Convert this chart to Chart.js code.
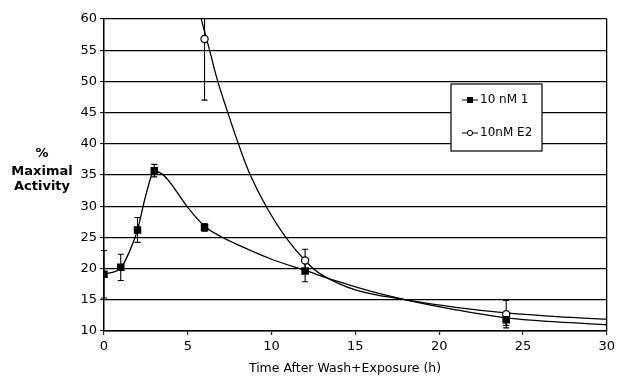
<!DOCTYPE html>
<html><head><meta charset="utf-8">
<script src="https://cdn.jsdelivr.net/npm/chart.js@4"></script>
<style>html,body{margin:0;padding:0;background:#fff}#wrap{width:619px;height:377px;position:relative}</style>
</head><body><div id="wrap"><canvas id="c" width="619" height="377"></canvas></div>
<script>
// ---- data ----
const xTicks = [0, 5, 10, 15, 20, 25, 30];
const yTicks = [10, 15, 20, 25, 30, 35, 40, 45, 50, 55, 60];
const seriesNames = ['10 nM 1', '10nM E2'];
const yTitleLines = ['%', 'Maximal', 'Activity'];
const xTitle = 'Time After Wash+Exposure (h)';

// measured points (mean ± error)
const timesA = [0, 1, 2, 3, 6, 12, 24];
const meanA  = [19.1, 20.2, 26.2, 35.7, 26.6, 19.6, 11.8];
const errA   = [3.8, 2.1, 2.0, 1.0, 0.6, 1.7, 0.9];

const timesE2 = [6, 12, 24];
const meanE2  = [56.8, 21.3, 12.7];
const errE2   = [9.8, 1.8, 2.2];

// fitted curves
const fitAX = [0, 0.5, 1, 1.5, 2, 2.5, 3, 3.5, 4, 4.5, 5, 6, 7, 8, 10, 12, 14, 16, 18, 21, 24, 27, 30];
const fitAY = [19.2, 19.4, 20.1, 22.6, 26.2, 31.8, 35.6, 35.1, 33.6, 31.7, 29.8, 26.8, 25.1, 23.8, 21.5, 19.7, 17.9, 16.3, 15.0, 13.4, 12.1, 11.45, 11.0];

const fitE2X = [5.6, 5.8, 6.3, 6.79, 7.39, 8.02, 8.73, 9.67, 10.85, 12, 13, 15, 18, 21, 24, 27, 30];
const fitE2Y = [62, 60, 55, 50, 45, 40, 35, 30, 25, 21.3, 19.0, 16.6, 15.0, 13.8, 12.9, 12.3, 11.9];

const FONT = '"DejaVu Sans", sans-serif';
const toXY = (xs, ys) => xs.map((x, i) => ({x: x, y: ys[i]}));

const errorBars = {
  id: 'errorBars',
  beforeDatasetsDraw(chart) {
    const {ctx, chartArea: a, scales: {x, y}} = chart;
    ctx.save();
    ctx.beginPath(); ctx.rect(a.left - 6, a.top, a.right - a.left + 12, a.bottom - a.top); ctx.clip();
    ctx.strokeStyle = '#000'; ctx.lineWidth = 1.1;
    const draw = (ts, ms, es) => ts.forEach((t, i) => {
      const px = x.getPixelForValue(t);
      const top = y.getPixelForValue(ms[i] + es[i]);
      const bot = y.getPixelForValue(ms[i] - es[i]);
      ctx.beginPath();
      ctx.moveTo(px, top); ctx.lineTo(px, bot);
      ctx.moveTo(px - 3, top); ctx.lineTo(px + 3, top);
      ctx.moveTo(px - 3, bot); ctx.lineTo(px + 3, bot);
      ctx.stroke();
    });
    draw(timesA, meanA, errA);
    draw(timesE2, meanE2, errE2);
    ctx.restore();
  }
};

const extras = {
  id: 'extras',
  afterDraw(chart) {
    const {ctx} = chart;
    ctx.save();
    ctx.fillStyle = '#000';
    // y title
    ctx.font = 'bold 13px ' + FONT;
    ctx.textAlign = 'center'; ctx.textBaseline = 'middle';
    [154, 172, 187].forEach((yy, i) => ctx.fillText(yTitleLines[i], 42, yy));
    // x title
    ctx.font = '12.5px ' + FONT;
    ctx.fillText(xTitle, 345, 369);
    // legend
    const bx = 451, by = 84, bw = 91, bh = 67;
    ctx.fillStyle = '#fff'; ctx.fillRect(bx, by, bw, bh);
    ctx.strokeStyle = '#000'; ctx.lineWidth = 1.2; ctx.strokeRect(bx, by, bw, bh);
    ctx.font = '12px ' + FONT; ctx.textAlign = 'left'; ctx.fillStyle = '#000';
    const rows = [100, 133];
    rows.forEach((yy, i) => {
      ctx.beginPath(); ctx.moveTo(462, yy); ctx.lineTo(478, yy); ctx.lineWidth = 1; ctx.stroke();
      if (i === 0) { ctx.fillStyle = '#000'; ctx.fillRect(467, yy - 3, 6, 6); }
      else { ctx.beginPath(); ctx.arc(470, yy, 2.6, 0, Math.PI * 2); ctx.fillStyle = '#fff'; ctx.fill(); ctx.stroke(); }
      ctx.fillStyle = '#000';
      ctx.fillText(seriesNames[i], 480, yy);
    });
    ctx.restore();
  }
};

new Chart(document.getElementById('c'), {
  type: 'line',
  data: {
    datasets: [
      { label: seriesNames[0], data: toXY(timesA, meanA), showLine: false,
        pointStyle: 'rect', pointRadius: 5.3, pointBackgroundColor: '#000', pointBorderColor: '#000', pointBorderWidth: 0 },
      { label: seriesNames[1], data: toXY(timesE2, meanE2), showLine: false,
        pointStyle: 'circle', pointRadius: 3.6, pointBackgroundColor: '#fff', pointBorderColor: '#000', pointBorderWidth: 1.2 },
      { label: 'fit 1', data: toXY(fitAX, fitAY), borderColor: '#000', borderWidth: 1.3, pointRadius: 0,
        cubicInterpolationMode: 'monotone', fill: false },
      { label: 'fit E2', data: toXY(fitE2X, fitE2Y), borderColor: '#000', borderWidth: 1.3, pointRadius: 0,
        tension: 0.4, fill: false }
    ]
  },
  options: {
    responsive: false, animation: false, devicePixelRatio: 1,
    layout: { padding: { top: 19, right: 10, left: 0, bottom: 0 } },
    plugins: { legend: { display: false }, tooltip: { enabled: false } },
    scales: {
      x: {
        type: 'linear', min: 0, max: 30,
        afterBuildTicks: s => { s.ticks = xTicks.map(v => ({value: v})); },
        afterFit: s => { s.height = 46; },
        grid: { color: c => (c.tick && c.tick.value === 30) ? '#000' : 'rgba(0,0,0,0)', lineWidth: 1.3,
                tickLength: 4, tickColor: '#000', tickWidth: 1 },
        border: { color: '#000', width: 1.5 },
        ticks: { color: '#000', font: { family: FONT, size: 13 }, padding: 4, maxRotation: 0 }
      },
      y: {
        min: 10, max: 60,
        afterBuildTicks: s => { s.ticks = yTicks.map(v => ({value: v})); },
        afterFit: s => { s.width = 104; },
        grid: { color: '#000', lineWidth: 1.2, tickLength: 4, tickColor: '#000', tickWidth: 1 },
        border: { color: '#000', width: 1.5 },
        ticks: { color: '#000', font: { family: FONT, size: 13 }, padding: 3 }
      }
    }
  },
  plugins: [errorBars, extras]
});
</script></body></html>
